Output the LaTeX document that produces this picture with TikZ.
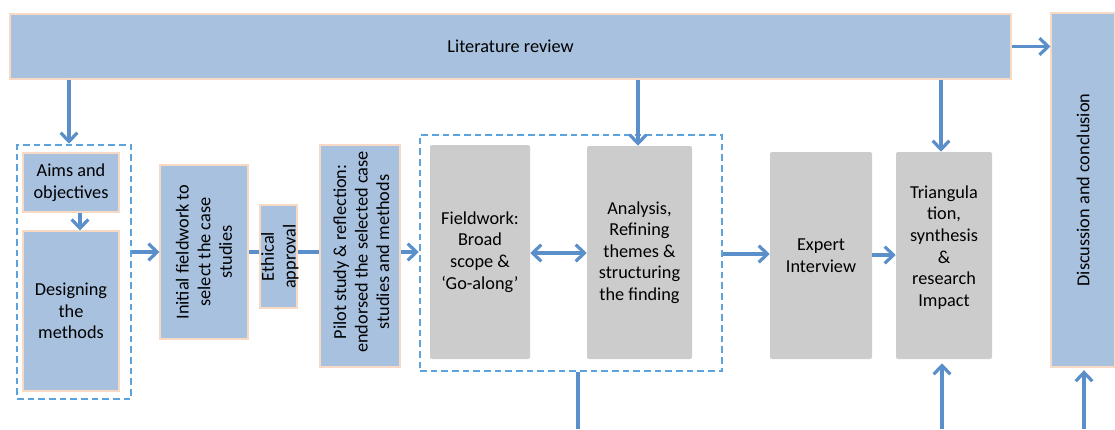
\documentclass[tikz,border=0pt]{standalone}
\usepackage{fontspec}
\setmainfont{Carlito}
\usetikzlibrary{arrows.meta}
\definecolor{boxblue}{HTML}{A7C1DF}
\definecolor{boxedge}{HTML}{F8D9C4}
\definecolor{boxgray}{HTML}{CCCCCC}
\definecolor{arrowblue}{HTML}{5B8FC9}
\definecolor{dashblue}{HTML}{5BA3DD}
\begin{document}
\begin{tikzpicture}[x=0.75pt,y=-0.75pt,
  font=\fontsize{13.7}{16.2}\selectfont,
  bluebox/.style={draw=boxedge, line width=0.8pt, fill=boxblue, inner sep=0pt, align=center},
  graybox/.style={fill=boxgray, rounded corners=1.5pt, inner sep=0pt, align=center},
  dashbox/.style={draw=dashblue, dash pattern=on 5pt off 3pt, line width=1.9pt, inner sep=0pt},
  rottext/.style={rotate=90, align=center, inner sep=0pt},
  link/.style={draw=arrowblue, line width=2.4pt},
  arr/.style={link, -{Straight Barb[length=6.5pt,width=12.5pt,line width=2.4pt]}},
  dbl/.style={link, {Straight Barb[length=6.5pt,width=12.5pt,line width=2.4pt]}-{Straight Barb[length=6.5pt,width=12.5pt,line width=2.4pt]}}
]
\useasboundingbox (0,0) rectangle (1115,429);

% boxes
\node[bluebox, minimum width=750.75pt, minimum height=48.75pt] (lit) at (510.5,46.5) {Literature review};
\node[bluebox, minimum width=48pt, minimum height=265.5pt] (disc) at (1083,190) {};
\node[rottext] (discT) at (disc.center) {Discussion and conclusion};

\node[dashbox, minimum width=85.5pt, minimum height=190.5pt] (dash1) at (74,272) {};
\node[bluebox, minimum width=72pt, minimum height=44.25pt] (aims) at (71,182.5) {Aims and\\objectives};
\node[bluebox, minimum width=72pt, minimum height=120pt] (design) at (71,311) {Designing\\the\\methods};

\node[bluebox, minimum width=66pt, minimum height=130.5pt] (init) at (204,252) {};
\node[rottext] (initT) at (init.center) {Initial fieldwork to\\select the case\\studies};

\node[bluebox, minimum width=27.75pt, minimum height=77.25pt] (eth) at (278.5,256.5) {};
\node[rottext] (ethT) at ([xshift=1pt]eth.center) {Ethical\\approval};

\node[bluebox, minimum width=60pt, minimum height=166.5pt] (pilot) at (360,256) {};
\node[rottext] (pilotT) at ([xshift=1pt,yshift=3pt]pilot.center) {Pilot study \& reflection:\\endorsed the selected case\\studies and methods};

\node[dashbox, minimum width=226.5pt, minimum height=177pt] (dash2) at (571,253) {};
\node[graybox, minimum width=75pt, minimum height=160.5pt] (field) at (480,252) {Fieldwork:\\Broad\\scope \&\\‘Go-along’};
\node[graybox, minimum width=78.75pt, minimum height=159.75pt] (anal) at (639.5,252.5) {Analysis,\\Refining\\themes \&\\structuring\\the finding};

\node[graybox, minimum width=76.5pt, minimum height=155.25pt] (expert) at (821,255.5) {Expert\\Interview};
\node[graybox, minimum width=72pt, minimum height=155.25pt] (tri) at (944,255.5) {};
\node[align=center, inner sep=0pt] (triT) at ([yshift=6pt]tri.center) {Triangula\\tion,\\synthesis\\\&\\research\\Impact};

% connectors
\draw[arr] (lit.south -| 69,0) -- (dash1.north -| 69,0);
\draw[arr] (aims.south -| 80,0) -- (design.north -| 80,0);
\draw[arr] (dash1.east |- 0,252) -- (init.west |- 0,252);
\draw[link] (init.east |- 0,252) -- (eth.west |- 0,252);
\draw[link] (eth.east |- 0,252) -- (pilot.west |- 0,252);
\draw[arr] (pilot.east |- 0,252) -- (dash2.west |- 0,252);
\draw[dbl] (field.east |- 0,253) -- (anal.west |- 0,253);
\draw[arr] (dash2.east |- 0,254) -- (expert.west |- 0,254);
\draw[arr] (expert.east |- 0,255) -- (tri.west |- 0,255);
\draw[arr] (lit.east) -- (disc.west |- lit.east);
\draw[arr] (lit.south -| 638,0) -- (anal.north -| 638,0);
\draw[arr] (lit.south -| 941,0) -- (tri.north -| 941,0);

\coordinate (b1) at (578,429);
\draw[link] (dash2.south -| b1) -- (b1);
\coordinate (b2) at (942,429);
\draw[arr, shorten >=3pt] (b2) -- (tri.south -| b2);
\coordinate (b3) at (1084,429);
\draw[arr, shorten >=2pt] (b3) -- (disc.south -| b3);
\end{tikzpicture}
\end{document}
